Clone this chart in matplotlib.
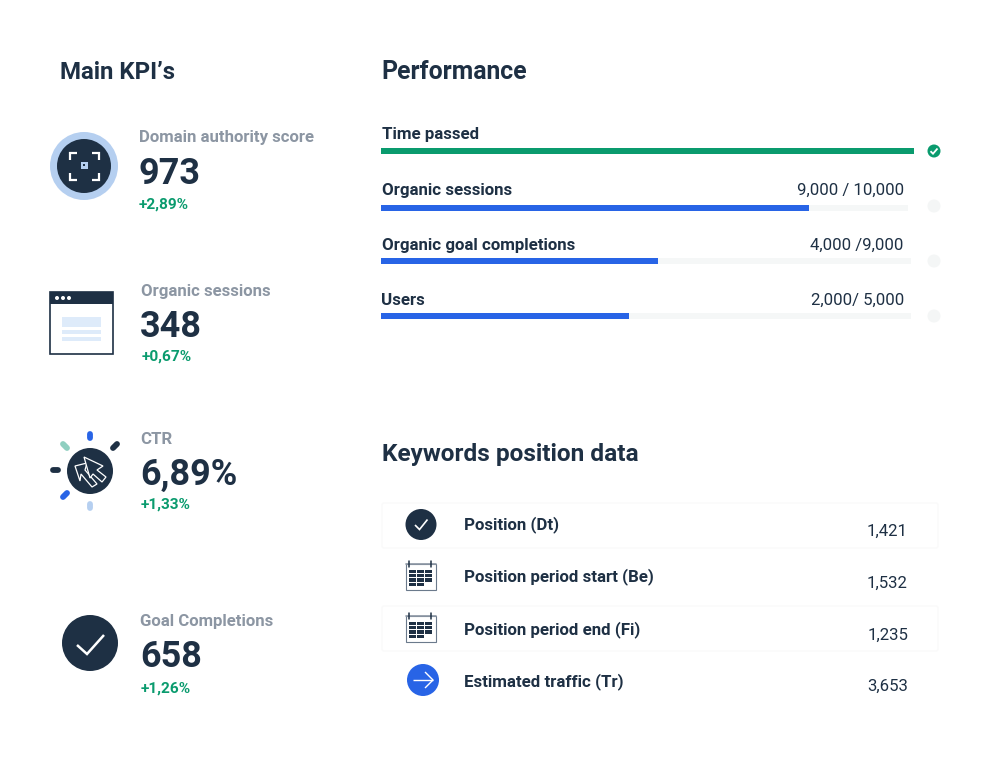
"""KPI dashboard panel: main KPIs, performance bars and keyword positions."""
import matplotlib
matplotlib.use("Agg")
import matplotlib.pyplot as plt
from matplotlib.patches import Circle, FancyBboxPatch, Polygon, Rectangle

plt.rcParams["font.family"] = ["Roboto", "DejaVu Sans"]

DARK = "#1e3044"
GREEN = "#0a9b6e"
BLUE = "#2864e6"
GREY = "#8c96a3"
TRACK = "#f5f7f7"
PALE = "#deebfa"
LIGHT = "#b5cff0"

kpi_labels = ["Domain authority score", "Organic sessions", "CTR", "Goal Completions"]
kpi_values = ["973", "348", "6,89%", "658"]
kpi_changes = ["+2,89%", "+0,67%", "+1,33%", "+1,26%"]

perf_labels = ["Time passed", "Organic sessions", "Organic goal completions", "Users"]
perf_notes = ["", "9,000 / 10,000", "4,000 /9,000", "2,000/ 5,000"]
perf_fill = [1.0, 0.812, 0.523, 0.468]

kw_labels = ["Position (Dt)", "Position period start (Be)",
             "Position period end (Fi)", "Estimated traffic (Tr)"]
kw_values = ["1,421", "1,532", "1,235", "3,653"]

fig = plt.figure(figsize=(9.92, 7.63), dpi=100)
ax = fig.add_axes([0, 0, 1, 1])
ax.set_xlim(0, 992)
ax.set_ylim(763, 0)
ax.axis("off")


def put(x, y, s, px, color=DARK, weight="bold", ha="left"):
    ax.text(x, y, s, fontsize=px * 0.72, color=color, fontweight=weight,
            ha=ha, va="baseline")


def stroke(xs, ys, color="white", lw=1.5, cap="round", z=5):
    ax.plot(xs, ys, color=color, lw=lw, solid_capstyle=cap, solid_joinstyle="miter", zorder=z)


def calendar(top):
    ax.add_patch(Rectangle((405.5, top + 3), 30, 26, fc="white", ec="#6b7a8c", lw=0.8, zorder=3))
    stroke([405.5, 435.5], [top + 3, top + 3], "#8c96a3", 1.2)
    for x in (409, 431):
        stroke([x, x], [top, top + 6], DARK, 1.1)
    for r in range(4):
        for c in range(3):
            if r == 3 and c == 2:
                continue
            ax.add_patch(Rectangle((409 + c * 8, top + 8.5 + r * 4.4), 7, 3.2, fc=DARK, ec="none", zorder=4))


# headings
put(60, 79, "Main KPI\u2019s", 24)
put(381, 79, "Performance", 24.7)
put(381.5, 461, "Keywords position data", 24.4)

# KPI column text
label_pos = [(139, 142), (141, 296), (140.5, 444), (140.5, 626)]
value_pos = [(138.5, 184), (139.5, 337), (140.5, 485), (140.5, 667)]
change_pos = [(139, 209), (142, 361), (141, 509), (140.5, 693)]
for i in range(4):
    put(*label_pos[i], kpi_labels[i], 16.8, GREY)
    put(*value_pos[i], kpi_values[i], 36)
    put(*change_pos[i], kpi_changes[i], 15.4, GREEN)

# icon 1: target
ax.add_patch(Circle((84, 166), 34, fc=LIGHT, ec="none"))
ax.add_patch(Circle((84, 166), 27, fc=DARK, ec="none"))
for x, y, dx, dy in [(69.5, 152.5, 1, 1), (98.5, 152.5, -1, 1), (69.5, 179.5, 1, -1), (98.5, 179.5, -1, -1)]:
    stroke([x + 7 * dx, x, x], [y, y, y + 7 * dy], cap="butt", lw=1.6)
ax.add_patch(Rectangle((80.5, 161.5), 7, 7, fc=LIGHT, ec="none", zorder=5))
ax.add_patch(Rectangle((82.8, 163.8), 2.4, 2.4, fc=DARK, ec="none", zorder=6))

# icon 2: browser window
ax.add_patch(Rectangle((50, 292), 63, 62, fc="white", ec=DARK, lw=1.2))
ax.add_patch(Rectangle((50, 292), 63, 12, fc=DARK, ec="none"))
for x in (57, 63, 69):
    ax.add_patch(Circle((x, 298), 2, fc="white", ec="none", zorder=4))
for y, h in [(317, 10), (330, 4), (337, 4)]:
    ax.add_patch(Rectangle((62, y), 39, h, fc=PALE, ec="none"))

# icon 3: cursor with ticks
ax.add_patch(Circle((90, 471), 23, fc=DARK, ec="none"))
ticks = [(90, 434, 90, 438, BLUE), (113, 448, 117, 444, DARK), (53, 470, 58, 470, DARK),
         (63, 497, 67, 493, BLUE), (90, 504, 90, 508, LIGHT), (63, 444, 67, 448, "#8fcfc0")]
for x0, y0, x1, y1, col in ticks:
    stroke([x0, x1], [y0, y1], col, 4.2, z=3)
ax.add_patch(Polygon([(75, 466), (87, 463), (85, 470), (97, 484), (92, 487), (81, 474), (80, 481)],
                     closed=True, fc="none", ec="white", lw=0.9, zorder=5))
ax.add_patch(Polygon([(84, 457), (103, 466), (97, 470), (106, 477), (102, 482), (93, 474), (90, 478)],
                     closed=True, fc=DARK, ec="white", lw=0.9, zorder=6))

# icon 4: check
ax.add_patch(Circle((90, 643), 28, fc=DARK, ec="none"))
stroke([77, 87, 104], [645, 654, 635], lw=1.8, cap="butt")

# performance bars
track_x = 381
track_w = [533, 527, 530, 530]
bar_y = [151, 207.5, 261, 316]
note_right = [904, 904, 903, 904]
label_y = [139, 195, 250, 305]
dot_y = [151, 206, 261, 316]
ax.barh(bar_y, track_w, left=track_x, height=6, color=TRACK, zorder=1)
ax.barh(bar_y, [f * w for f, w in zip(perf_fill, track_w)], left=track_x, height=6,
        color=[GREEN, BLUE, BLUE, BLUE], zorder=2)
for i in range(4):
    put(381.5, label_y[i], perf_labels[i], 16.9)
    if perf_notes[i]:
        put(note_right[i], label_y[i], perf_notes[i], 16.8, weight="normal", ha="right")
    dot = GREEN if i == 0 else "#f4f6f6"
    ax.add_patch(Circle((934, dot_y[i]), 6.5, fc=dot, ec="none"))
stroke([930.5, 933, 937.5], [151.2, 153.7, 148.5], lw=1.3, cap="butt")

# keyword table
for top in (503, 606):
    ax.add_patch(FancyBboxPatch((382, top), 556, 45, boxstyle="round,pad=0,rounding_size=2",
                                fc="white", ec="#fafafa", lw=1.0, zorder=0))
kw_text_y = [529.5, 581.5, 634, 686]
kw_val_y = [536, 588, 640, 691]
kw_val_x = [907.5, 907.5, 908, 908.5]
for i in range(4):
    put(464, kw_text_y[i], kw_labels[i], 16.9)
    put(kw_val_x[i], kw_val_y[i], kw_values[i], 16.8, weight="normal", ha="right")

ax.add_patch(Circle((421, 524.5), 15.5, fc=DARK, ec="none"))
stroke([415, 419.5, 427.5], [525, 529.5, 519.5], lw=1.2, cap="butt")
calendar(561)
calendar(613)
ax.add_patch(Circle((423, 680), 16, fc=BLUE, ec="none"))
stroke([413, 433], [680, 680], lw=1.0, cap="butt")
stroke([425, 433, 425], [672, 680, 688], lw=1.0, cap="butt")

fig.savefig("out.png", dpi=100, facecolor="white")
